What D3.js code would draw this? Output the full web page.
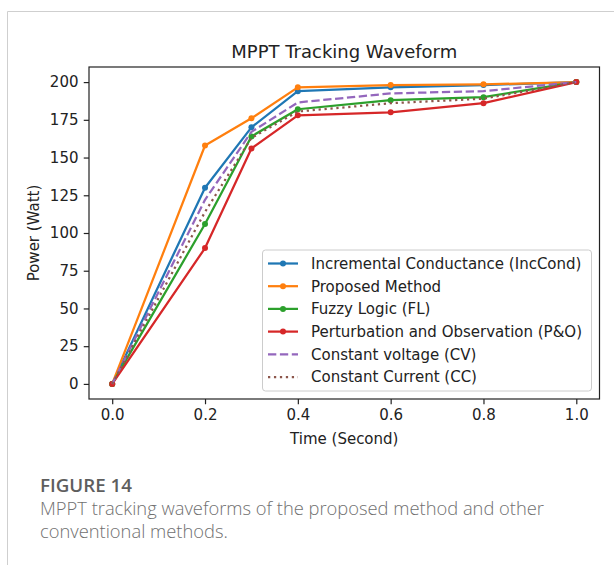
<!DOCTYPE html>
<html>
<head>
<meta charset="utf-8">
<script src="https://cdn.jsdelivr.net/npm/d3@7"></script>
<style>
  html, body { margin: 0; padding: 0; background: #fff; }
  svg { display: block; }
</style>
</head>
<body>
<svg id="chart" width="614" height="565"></svg>
<script>
// ---- data ----
const times = [0, 0.2, 0.3, 0.4, 0.6, 0.8, 1.0];
const incCond  = [0, 130, 170, 194, 196.5, 198, 200];
const proposed = [0, 158, 176, 196.5, 198, 198.5, 200];
const fuzzy    = [0, 106, 164, 182, 188, 190, 200];
const pno      = [0, 90, 156, 178, 180, 186, 200];
const cv       = [0, 122, 167, 186.5, 192.5, 194, 200];
const cc       = [0, 114, 163, 180.5, 186, 189, 200];
const seriesNames = [
  "Incremental Conductance (IncCond)",
  "Proposed Method",
  "Fuzzy Logic (FL)",
  "Perturbation and Observation (P&O)",
  "Constant voltage (CV)",
  "Constant Current (CC)"
];
const xTicks = [0.0, 0.2, 0.4, 0.6, 0.8, 1.0];
const yTicks = [0, 25, 50, 75, 100, 125, 150, 175, 200];
const titleText = "MPPT Tracking Waveform";
const xLabel = "Time (Second)";
const yLabel = "Power (Watt)";
const captionHead = "FIGURE 14";
const captionLines = ["MPPT tracking waveforms of the proposed method and other", "conventional methods."];

// ---- styles ----
const styles = [
  {color: "#1f77b4", dash: null, marker: true},
  {color: "#ff7f0e", dash: null, marker: true},
  {color: "#2ca02c", dash: null, marker: true},
  {color: "#d62728", dash: null, marker: true},
  {color: "#9467bd", dash: "8.3,3.6", marker: false},
  {color: "#8c564b", dash: "2.25,3.7", marker: false}
];
const allSeries = [incCond, proposed, fuzzy, pno, cv, cc];

const svg = d3.select("#chart");
const FONT = "'DejaVu Sans', sans-serif";

// frame
svg.append("path")
  .attr("d", "M7.5,565 V11.5 H614")
  .attr("fill", "none").attr("stroke", "#cfcfcf").attr("stroke-width", 1);

const L = 89, R = 599.5, T = 67, B = 399;
const x = d3.scaleLinear().domain([-0.05, 1.05]).range([L, R]);
const y = d3.scaleLinear().domain([-10, 210]).range([B, T]);

// axes
const xAxis = d3.axisBottom(x).tickValues(xTicks).tickFormat(d3.format(".1f")).tickSize(5.25).tickPadding(5.5);
const yAxis = d3.axisLeft(y).tickValues(yTicks).tickFormat(d3.format("d")).tickSize(5.25).tickPadding(5.25);

const gx = svg.append("g").attr("transform", `translate(0,${B})`).call(xAxis);
const gy = svg.append("g").attr("transform", `translate(${L},0)`).call(yAxis);
[gx, gy].forEach(g => {
  g.select(".domain").remove();
  g.selectAll(".tick line").attr("stroke", "#222").attr("stroke-width", 1.2);
  g.selectAll(".tick text").attr("fill", "#222").style("font-family", FONT).style("font-size", "15px");
});

// lines
const line = d3.line().x((d, i) => x(times[i])).y(d => y(d));
const plot = svg.append("g");
allSeries.forEach((s, k) => {
  const st = styles[k];
  plot.append("path")
    .datum(s)
    .attr("d", line)
    .attr("fill", "none")
    .attr("stroke", st.color)
    .attr("stroke-width", 2.25)
    .attr("stroke-linejoin", "round")
    .attr("stroke-linecap", st.dash ? "butt" : "square")
    .attr("stroke-dasharray", st.dash);
  if (st.marker) {
    plot.selectAll(null).data(s).enter().append("circle")
      .attr("cx", (d, i) => x(times[i]))
      .attr("cy", d => y(d))
      .attr("r", 3)
      .attr("fill", st.color);
  }
});

// spines
svg.append("rect").attr("x", L).attr("y", T).attr("width", R - L).attr("height", B - T)
  .attr("fill", "none").attr("stroke", "#222").attr("stroke-width", 1.2);

// title and labels
svg.append("text").attr("x", (L + R) / 2).attr("y", 58).attr("text-anchor", "middle")
  .style("font-family", FONT).style("font-size", "18px").attr("fill", "#222").text(titleText);
svg.append("text").attr("x", (L + R) / 2).attr("y", 443.5).attr("text-anchor", "middle")
  .style("font-family", FONT).style("font-size", "15px").attr("fill", "#222").text(xLabel);
svg.append("text").attr("transform", `translate(38.5,${(T + B) / 2}) rotate(-90)`).attr("text-anchor", "middle")
  .style("font-family", FONT).style("font-size", "15px").attr("fill", "#222").text(yLabel);

// legend
const lg = svg.append("g");
lg.append("rect").attr("x", 262.5).attr("y", 250).attr("width", 329).attr("height", 141).attr("rx", 3)
  .attr("fill", "#fff").attr("fill-opacity", 0.8).attr("stroke", "#cccccc").attr("stroke-width", 1);
seriesNames.forEach((name, k) => {
  const st = styles[k];
  const yy = 263.5 + k * 22.7;
  lg.append("line").attr("x1", 268).attr("x2", 298).attr("y1", yy).attr("y2", yy)
    .attr("stroke", st.color).attr("stroke-width", 2.25).attr("stroke-dasharray", st.dash);
  if (st.marker) lg.append("circle").attr("cx", 283).attr("cy", yy).attr("r", 3).attr("fill", st.color);
  lg.append("text").attr("x", 311).attr("y", yy + 5.3)
    .style("font-family", FONT).style("font-size", "15px").attr("fill", "#222").text(name);
});

// caption (font size fitted so widths match the reference layout)
const CF = "'Open Sans', Lato, sans-serif";
function fitText(sel, target) {
  const w = sel.node().getComputedTextLength();
  if (w > 0) sel.style("font-size", (16 * target / w).toFixed(2) + "px");
}
const head = svg.append("text").attr("x", 40).attr("y", 491.5).style("font-family", CF).style("font-size", "16px")
  .style("font-weight", "600").attr("fill", "#5e5e5e").text(captionHead);
fitText(head, 92);
const capSel = captionLines.map((t, i) =>
  svg.append("text").attr("x", 40).attr("y", 515 + i * 23).style("font-family", CF).style("font-size", "16px")
    .style("font-weight", "300").attr("fill", "#707070").text(t));
const w0 = capSel[0].node().getComputedTextLength();
const capSize = (16 * 504 / w0).toFixed(2) + "px";
capSel.forEach(s => s.style("font-size", capSize));
</script>
</body>
</html>
